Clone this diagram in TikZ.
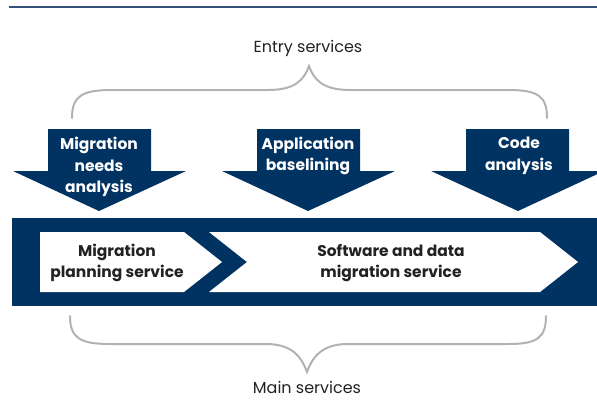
\documentclass[tikz,border=0pt]{standalone}
\usepackage{fontspec}
\setmainfont{Poppins}
\definecolor{navy}{RGB}{0,50,98}
\definecolor{rulecol}{RGB}{52,80,122}
\definecolor{bracecol}{RGB}{178,178,180}
\definecolor{textcol}{RGB}{34,34,34}
\begin{document}
\begin{tikzpicture}[x=1pt,y=-1pt,
  box/.style={fill=navy,draw=none},
  chev/.style={fill=white,draw=none},
  brace/.style={draw=bracecol,line width=2pt,line cap=round},
  inlabel/.style={text=white,font=\fontsize{15.5}{21.5}\selectfont\bfseries,align=center,inner sep=0pt},
  barlabel/.style={text=textcol,font=\fontsize{15.5}{20.5}\selectfont\bfseries,align=center,inner sep=0pt},
  caption/.style={text=textcol,font=\fontsize{16}{19}\selectfont,inner sep=0pt}]
\useasboundingbox (0,0) rectangle (597,400);
% top rule
\draw[rulecol,line width=1.5pt] (9,7) -- (597,7);
% captions
\node[caption] (entry) at (308,48) {Entry services};
\node[caption] (main) at (307,387) {Main services};
% top brace
\draw[brace] (72,118) .. controls (72,96) and (82,90) .. (112,90) -- (268,90)
  .. controls (295,90) and (304,80) .. (309,66)
  .. controls (314,80) and (323,90) .. (350,90) -- (508,90)
  .. controls (538,90) and (547,96) .. (547,118);
% bottom brace
\draw[brace] (70,316) .. controls (70,338) and (80,344) .. (110,344) -- (266,344)
  .. controls (293,344) and (302,358) .. (307,372)
  .. controls (312,358) and (321,344) .. (348,344) -- (508,344)
  .. controls (537,344) and (546,338) .. (546,316);
% down arrows
\fill[box] (48,129) -- (151,129) -- (151,171) -- (186,171) -- (99,211) -- (13,171) -- (48,171) -- cycle;
\fill[box] (257,129) -- (360,129) -- (360,171) -- (395,171) -- (308,211) -- (222,171) -- (257,171) -- cycle;
\fill[box] (466,129) -- (569,129) -- (569,171) -- (604,171) -- (518,211) -- (431,171) -- (466,171) -- cycle;
% main bar
\fill[box] (12,218) rectangle (597,306);
\fill[chev] (40,232) -- (184,232) -- (222,262) -- (184,292) -- (40,292) -- cycle;
\fill[chev] (209,232) -- (540,232) -- (578,262) -- (540,292) -- (209,292) -- (247,262) -- cycle;
% labels
\node[inlabel] (mna) at (99,167) {Migration\\needs\\analysis};
\node[inlabel] (ab) at (308,156) {Application\\baselining};
\node[inlabel] (ca) at (519,156) {Code\\analysis};
\node[barlabel] (mps) at (117,263) {Migration\\planning service};
\node[barlabel] (sdm) at (391,263) {Software and data\\migration service};
\end{tikzpicture}
\end{document}
